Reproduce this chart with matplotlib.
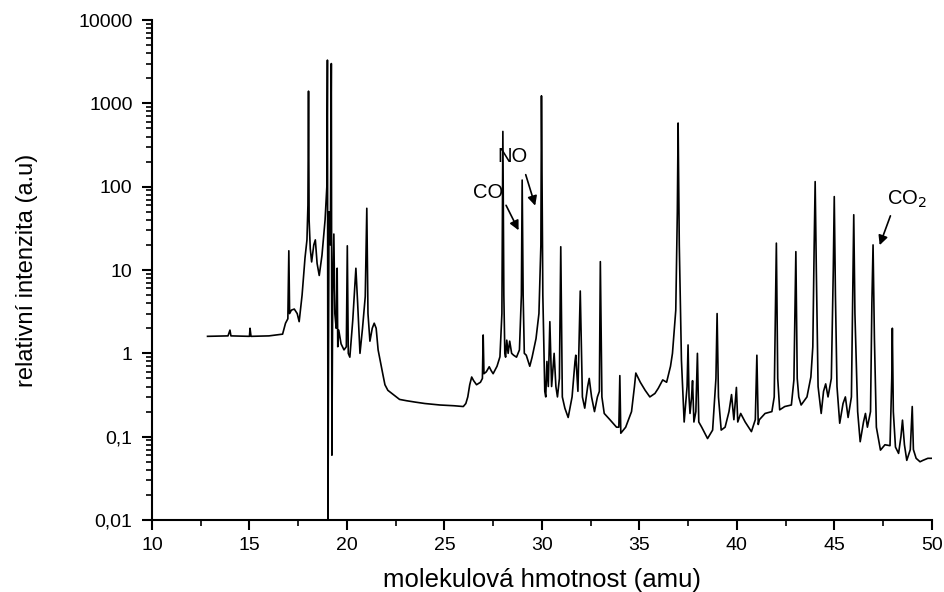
import matplotlib
matplotlib.use("Agg")
import matplotlib.pyplot as plt
from matplotlib.ticker import FixedLocator, LogLocator, MultipleLocator, FuncFormatter

plt.rcParams['font.family'] = ['Liberation Sans', 'DejaVu Sans']

# spectrum: mass (amu) and relative intensity
mass = [12.85, 13.9, 14.0, 14.05, 15.0, 15.03, 15.08, 16.0, 16.7, 16.85, 16.97, 17.02, 17.06,
        17.15, 17.3, 17.45, 17.55, 17.7, 17.85, 17.95, 18.0, 18.03, 18.06, 18.12, 18.19, 18.3,
        18.38, 18.47, 18.58, 18.72, 18.88, 18.97, 19.0, 19.03, 19.08, 19.15, 19.2, 19.23, 19.27,
        19.33, 19.38, 19.45, 19.5, 19.53, 19.58, 19.7, 19.85, 19.97, 20.02, 20.07, 20.15, 20.3,
        20.4, 20.46, 20.55, 20.67, 20.8, 20.94, 21.02, 21.08, 21.18, 21.3, 21.4, 21.5, 21.6,
        21.7, 21.85, 21.95, 22.1, 22.38, 22.7, 23.06, 23.5, 24.0, 24.77, 25.5, 25.97, 26.1,
        26.2, 26.3, 26.4, 26.5, 26.65, 26.85, 26.95, 26.99, 27.03, 27.15, 27.3, 27.4, 27.5,
        27.7, 27.85, 27.95, 28.0, 28.05, 28.1, 28.14, 28.2, 28.27, 28.35, 28.45, 28.55, 28.7,
        28.85, 28.95, 28.99, 29.04, 29.1, 29.2, 29.38, 29.5, 29.7, 29.85, 29.95, 29.98, 30.05,
        30.15, 30.2, 30.26, 30.33, 30.41, 30.5, 30.63, 30.72, 30.8, 30.9, 30.97, 31.05, 31.18,
        31.35, 31.55, 31.7, 31.74, 31.85, 31.97, 32.08, 32.2, 32.35, 32.43, 32.55, 32.7, 32.85,
        32.95, 33.0, 33.08, 33.2, 33.49, 33.83, 33.95, 34.0, 34.05, 34.3, 34.6, 34.75, 34.82,
        35.05, 35.3, 35.54, 35.8, 35.97, 36.2, 36.4, 36.6, 36.7, 36.87, 36.95, 36.99, 37.05,
        37.16, 37.3, 37.45, 37.5, 37.55, 37.6, 37.68, 37.73, 37.8, 37.9, 37.98, 38.05, 38.2,
        38.5, 38.76, 38.93, 38.99, 39.06, 39.2, 39.4, 39.6, 39.73, 39.85, 39.98, 40.05, 40.2,
        40.43, 40.75, 40.95, 41.03, 41.1, 41.16, 41.45, 41.8, 41.92, 41.98, 42.03, 42.1, 42.2,
        42.46, 42.8, 42.93, 43.03, 43.1, 43.18, 43.3, 43.6, 43.8, 43.9, 43.97, 44.02, 44.08,
        44.17, 44.33, 44.45, 44.56, 44.68, 44.85, 44.95, 45.0, 45.06, 45.14, 45.28, 45.45,
        45.57, 45.71, 45.88, 45.95, 46.0, 46.06, 46.2, 46.33, 46.5, 46.6, 46.7, 46.86, 46.93,
        46.99, 47.06, 47.16, 47.37, 47.6, 47.86, 47.95, 47.98, 48.03, 48.14, 48.3, 48.42, 48.5,
        48.6, 48.72, 48.9, 49.0, 49.06, 49.2, 49.4, 49.55, 49.8, 49.98]
intensity = [1.6, 1.62, 1.9, 1.62, 1.6, 2.0, 1.6, 1.62, 1.7, 2.3, 2.6, 17, 3.0,
             3.3, 3.4, 3.0, 2.4, 5, 14, 23, 60, 1400, 40, 18, 12.5, 20,
             23, 12, 8.6, 15, 40, 100, 3300, 0.01, 50, 20, 3000, 0.06, 5,
             27, 3, 2.0, 10.5, 1.2, 1.9, 1.3, 1.1, 1.2, 19.5, 1.0, 0.9, 2.5,
             6, 10.5, 4, 1.0, 2.0, 4.8, 55, 3, 1.4, 2.0, 2.3, 2.0, 1.1,
             0.83, 0.55, 0.42, 0.36, 0.32, 0.28, 0.27, 0.26, 0.25, 0.24, 0.235, 0.23, 0.25,
             0.3, 0.42, 0.52, 0.47, 0.42, 0.45, 0.5, 1.66, 0.57, 0.6, 0.69, 0.62, 0.57,
             0.7, 0.91, 3, 460, 5, 1.0, 0.9, 1.44, 1.0, 1.4, 1.0, 0.95, 0.9,
             1.1, 5, 120, 5, 1.0, 0.95, 0.7, 0.9, 1.5, 3, 20, 1230, 5,
             0.35, 0.3, 0.8, 0.4, 2.4, 0.4, 1.0, 0.4, 0.3, 0.5, 19, 0.3, 0.22,
             0.17, 0.3, 0.8, 0.95, 0.35, 5.6, 0.3, 0.22, 0.4, 0.5, 0.3, 0.2, 0.3,
             0.35, 12.6, 0.3, 0.19, 0.16, 0.13, 0.13, 0.54, 0.11, 0.13, 0.2, 0.4, 0.58,
             0.45, 0.36, 0.3, 0.33, 0.38, 0.48, 0.45, 0.7, 1.0, 3.3, 50, 580, 20,
             0.83, 0.15, 0.4, 1.26, 0.3, 0.19, 0.3, 0.47, 0.15, 0.2, 1.0, 0.15, 0.13,
             0.095, 0.12, 0.5, 3.0, 0.3, 0.12, 0.13, 0.2, 0.32, 0.16, 0.39, 0.15, 0.19,
             0.15, 0.115, 0.16, 0.95, 0.14, 0.16, 0.19, 0.2, 0.3, 3, 21, 0.5, 0.21,
             0.23, 0.24, 0.48, 16.6, 0.5, 0.3, 0.24, 0.3, 0.52, 1.2, 20, 115, 10,
             0.4, 0.19, 0.35, 0.43, 0.3, 0.5, 10, 76, 5, 0.4, 0.145, 0.25,
             0.3, 0.17, 0.3, 5, 46, 3, 0.2, 0.087, 0.15, 0.19, 0.13, 0.2, 4,
             20, 1.5, 0.13, 0.069, 0.08, 0.078, 0.5, 2.0, 0.2, 0.075, 0.063, 0.1, 0.158,
             0.08, 0.052, 0.07, 0.23, 0.07, 0.055, 0.05, 0.052, 0.055, 0.055]

y_ticks = [0.01, 0.1, 1, 10, 100, 1000, 10000]
x_ticks = [10, 15, 20, 25, 30, 35, 40, 45, 50]

# label, text position, arrow tip and tail
labels = ['CO', 'NO', 'CO$_2$']
text_xy = [(27.25, 84), (28.5, 228), (48.75, 70)]
tip_xy = [(28.87, 28), (29.7, 55), (47.28, 18.5)]
tail_xy = [(28.1, 64), (29.13, 150), (47.93, 48)]

fig = plt.figure(figsize=(9.44, 5.92), dpi=100)
ax = fig.add_axes([0.161, 0.1216, 0.826, 0.8446])

ax.plot(mass, intensity, color='black', linewidth=1.2)

ax.set_yscale('log')
ax.set_xlim(10, 50)
ax.set_ylim(0.01, 10000)

ax.xaxis.set_major_locator(FixedLocator(x_ticks))
ax.xaxis.set_minor_locator(MultipleLocator(2.5))
ax.yaxis.set_major_locator(FixedLocator(y_ticks))
ax.yaxis.set_minor_locator(LogLocator(base=10, subs=range(2, 10)))
ax.yaxis.set_major_formatter(FuncFormatter(lambda v, p: ('%g' % v).replace('.', ',')))

for s in ['top', 'right']:
    ax.spines[s].set_visible(False)
for s in ['left', 'bottom']:
    ax.spines[s].set_linewidth(1.5)

ax.tick_params(which='major', direction='out', length=7, width=1.5, labelsize=14)
ax.tick_params(axis='y', which='major', pad=7)
ax.tick_params(axis='x', which='major', pad=5)
ax.tick_params(which='minor', direction='out', length=4, width=1.2)

ax.set_xlabel('molekulová hmotnost (amu)', fontsize=18.5, labelpad=10)
ax.set_ylabel('relativní intenzita (a.u)', fontsize=17)
ax.yaxis.set_label_coords(-0.146, 0.5)

for lab, t, a, b in zip(labels, text_xy, tip_xy, tail_xy):
    ax.text(t[0], t[1], lab, fontsize=14.5, ha='center', va='center')
    ax.annotate('', xy=a, xytext=b,
                arrowprops=dict(arrowstyle='-|>', color='black', lw=1.2, mutation_scale=14))

fig.savefig('out.png', dpi=100)
